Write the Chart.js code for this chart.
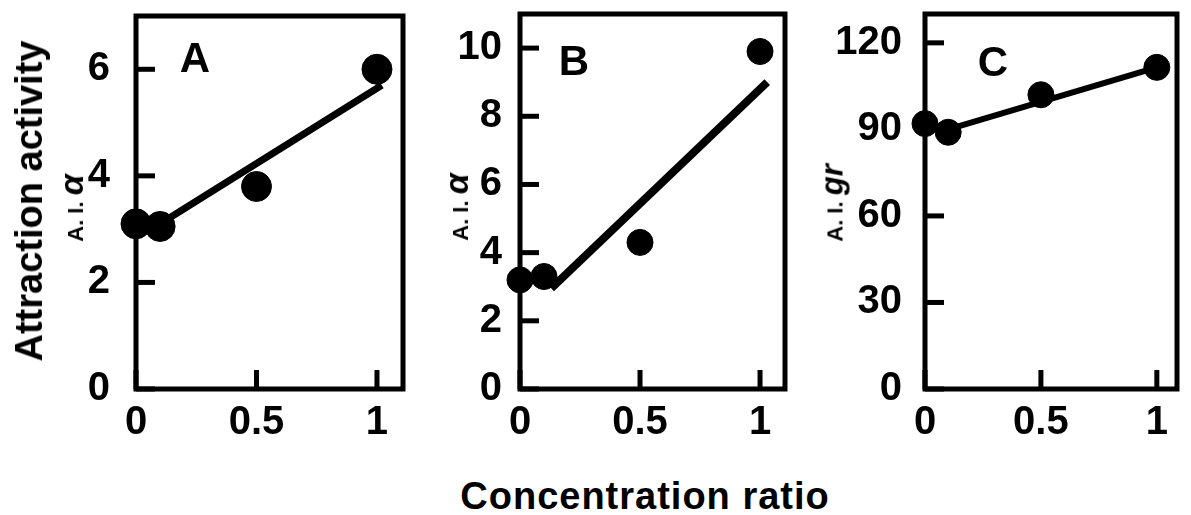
<!DOCTYPE html>
<html>
<head>
<meta charset="utf-8">
<script src="https://cdn.jsdelivr.net/npm/chart.js@4.4.1/dist/chart.umd.min.js"></script>
<style>
  body { margin: 0; background: #fff; width: 1191px; height: 515px; position: relative; overflow: hidden;
         font-family: "Liberation Sans", Arial, sans-serif; color: #000; }
  canvas { position: absolute; top: 0; }
  .lbl { position: absolute; white-space: nowrap; font-weight: bold; line-height: 1; }
  .rot { transform: translate(-50%, -50%) rotate(-90deg); }
  .ctr { transform: translate(-50%, -50%); }
</style>
</head>
<body>
<canvas id="chart-a" width="380" height="470" style="left:40px"></canvas>
<canvas id="chart-b" width="370" height="470" style="left:430px"></canvas>
<canvas id="chart-c" width="381" height="470" style="left:810px"></canvas>

<div class="lbl rot" style="left:29px; top:201px; font-size:38px;">Attraction activity</div>
<div class="lbl rot" style="left:71px; top:208px;"><span style="font-size:22px">A. I. </span><i style="font-size:34px">α</i></div>
<div class="lbl rot" style="left:456px; top:207px;"><span style="font-size:22px">A. I. </span><i style="font-size:34px">α</i></div>
<div class="lbl rot" style="left:832px; top:203px;"><span style="font-size:22px">A. I. </span><i style="font-size:31px">gr</i></div>
<div class="lbl ctr" style="left:195px; top:58px; font-size:42px;">A</div>
<div class="lbl ctr" style="left:574px; top:61px; font-size:42px;">B</div>
<div class="lbl ctr" style="left:993px; top:62px; font-size:42px;">C</div>
<div class="lbl ctr" style="left:645px; top:496px; font-size:38px; letter-spacing:1px;">Concentration ratio</div>

<script>
// Data
const ratio = [0, 0.1, 0.5, 1];
const activityA = [3.1, 3.05, 3.8, 6.0];
const activityB = [3.2, 3.3, 4.3, 9.9];
const activityC = [92, 89, 102, 111.5];

// fitted lines (end points)
const fitRatioA = [0.1, 1.02];
const fitA = [3.1, 5.7];
const fitRatioB = [0.13, 1.03];
const fitB = [2.95, 9.0];
const fitRatioC = [0.1, 1.0];
const fitC = [90, 111.5];

// tick values / labels
const xTicks = [0, 0.5, 1];
const xTickLabels = ['0', '0.5', '1'];
const yTicksA = [0, 2, 4, 6];
const yTicksB = [0, 2, 4, 6, 8, 10];
const yTicksC = [0, 30, 60, 90, 120];

const tickFont = { family: '"Liberation Sans", Arial, sans-serif', size: 40, weight: 'bold' };

// box around the plot + inward tick marks
const framePlugin = {
    id: 'frame',
    beforeDatasetsDraw(chart) {
        const { ctx, chartArea: a, scales: { x, y } } = chart;
        ctx.save();
        ctx.strokeStyle = '#000';
        ctx.lineWidth = 5;
        ctx.strokeRect(a.left, a.top, a.width, a.height);
        y.ticks.forEach(t => {
            const py = y.getPixelForValue(t.value);
            ctx.beginPath();
            ctx.moveTo(a.left, py);
            ctx.lineTo(a.left + 19, py);
            ctx.stroke();
        });
        x.ticks.forEach(t => {
            const px = x.getPixelForValue(t.value);
            ctx.beginPath();
            ctx.moveTo(px, a.bottom);
            ctx.lineTo(px, a.bottom - 19);
            ctx.stroke();
        });
        ctx.restore();
    }
};

function makePanel(id, values, fitX, fitY, yMax, yTicks, o) {
    return new Chart(document.getElementById(id), {
        type: 'scatter',
        data: {
            datasets: [{
                data: ratio.map((r, i) => ({ x: r, y: values[i] })),
                backgroundColor: '#000',
                borderColor: '#000',
                pointRadius: o.radius,
                pointHoverRadius: o.radius,
                clip: false
            }, {
                data: fitX.map((r, i) => ({ x: r, y: fitY[i] })),
                showLine: true,
                borderColor: '#000',
                borderWidth: o.lineWidth,
                pointRadius: 0,
                clip: false
            }]
        },
        options: {
            responsive: false,
            animation: false,
            devicePixelRatio: 1,
            layout: { padding: { top: 13, right: o.padRight, left: 0, bottom: 0 } },
            plugins: { legend: { display: false }, tooltip: { enabled: false } },
            scales: {
                x: {
                    type: 'linear',
                    min: 0,
                    max: o.xMax,
                    afterBuildTicks: s => { s.ticks = xTicks.map(v => ({ value: v })); },
                    afterFit: s => { s.height = 81; s.paddingLeft = 0; s.paddingRight = 0; },
                    grid: { display: false, drawTicks: false },
                    border: { display: false },
                    ticks: {
                        color: '#000',
                        font: tickFont,
                        padding: 10,
                        maxRotation: 0,
                        callback: (v, i) => xTickLabels[i]
                    }
                },
                y: {
                    min: 0,
                    max: yMax,
                    afterBuildTicks: s => { s.ticks = yTicks.map(v => ({ value: v })); },
                    afterFit: s => { s.width = o.axisWidth; s.paddingTop = 0; s.paddingBottom = 0; },
                    grid: { display: false, drawTicks: false },
                    border: { display: false },
                    ticks: {
                        color: '#000',
                        font: tickFont,
                        padding: o.tickPad,
                        callback: v => String(v)
                    }
                }
            }
        },
        plugins: [framePlugin]
    });
}

makePanel('chart-a', activityA, fitRatioA, fitA, 7, yTicksA,
    { radius: 15, lineWidth: 7, xMax: 1.108, padRight: 17, axisWidth: 96, tickPad: 26 });
makePanel('chart-b', activityB, fitRatioB, fitB, 11, yTicksB,
    { radius: 13, lineWidth: 8, xMax: 1.104, padRight: 15, axisWidth: 90, tickPad: 18 });
makePanel('chart-c', activityC, fitRatioC, fitC, 130, yTicksC,
    { radius: 13, lineWidth: 6, xMax: 1.087, padRight: 3, axisWidth: 115, tickPad: 23 });
</script>
</body>
</html>
